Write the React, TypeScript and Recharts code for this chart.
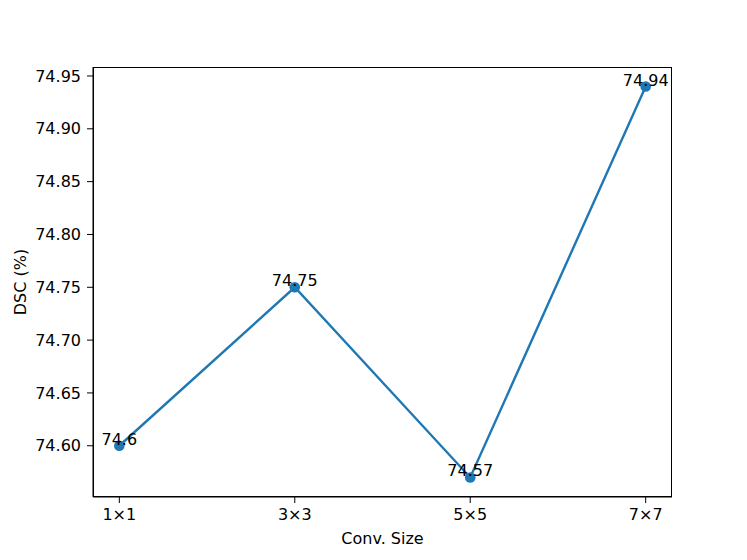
import React from "react";
import { LineChart, Line, XAxis, YAxis, LabelList } from "recharts";

const sizes = ["1×1", "3×3", "5×5", "7×7"];
const dsc = [74.6, 74.75, 74.57, 74.94];
const yTicks = [74.6, 74.65, 74.7, 74.75, 74.8, 74.85, 74.9, 74.95];

const data = sizes.map((s, i) => ({ idx: i, name: s, dsc: dsc[i] }));

const FONT = "'DejaVu Sans', sans-serif";
const FS = 16;
const BLUE = "#1f77b4";

function PointLabel(props: any) {
  const { x, y, value } = props;
  return (
    <text x={x} y={y - 1} textAnchor="middle" fontSize={FS} fontFamily={FONT} fill="#000">
      {String(value)}
    </text>
  );
}

export default function App() {
  return (
    <div style={{ position: "absolute", left: 0, top: 0, width: 747, height: 560, background: "#fff" }}>
      <LineChart width={747} height={560} data={data} margin={{ top: 67, right: 75, bottom: 0, left: 0 }}>
        <XAxis
          dataKey="idx"
          type="number"
          domain={[-0.15, 3.15]}
          ticks={[0, 1, 2, 3]}
          tickFormatter={(v: number) => sizes[v]}
          height={63}
          tickSize={6}
          tickMargin={6}
          stroke="#000"
          tick={{ fill: "#000", fontSize: FS, fontFamily: FONT }}
          allowDataOverflow
          label={{ value: "Conv. Size", position: "insideBottom", offset: 16, fill: "#000", fontSize: FS, fontFamily: FONT }}
        />
        <YAxis
          type="number"
          domain={[74.5515, 74.9585]}
          ticks={yTicks}
          tickFormatter={(v: number) => v.toFixed(2)}
          width={93}
          tickSize={6}
          tickMargin={6}
          stroke="#000"
          tick={{ fill: "#000", fontSize: FS, fontFamily: FONT }}
          allowDataOverflow
          label={{ value: "DSC (%)", angle: -90, position: "insideLeft", offset: 20, fill: "#000", fontSize: FS, fontFamily: FONT, style: { textAnchor: "middle" } }}
        />
        <Line
          dataKey="dsc"
          stroke={BLUE}
          strokeWidth={2.4}
          dot={{ r: 5.3, fill: BLUE, stroke: BLUE, strokeWidth: 0 }}
          activeDot={false}
          isAnimationActive={false}
        >
          <LabelList dataKey="dsc" content={<PointLabel />} />
        </Line>
      </LineChart>
      <div
        style={{
          position: "absolute",
          left: 92.5,
          top: 66.5,
          width: 579,
          height: 430,
          border: "1.2px solid #000",
          boxSizing: "border-box",
          pointerEvents: "none",
        }}
      />
    </div>
  );
}
